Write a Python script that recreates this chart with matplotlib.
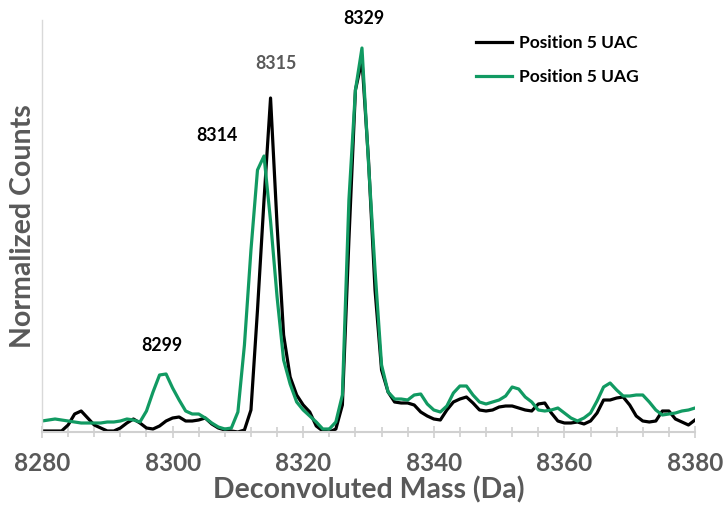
import numpy as np
import matplotlib.pyplot as plt
from matplotlib.ticker import MultipleLocator

plt.rcParams['font.family'] = ['Lato', 'DejaVu Sans']

# deconvoluted mass (Da), 1 Da steps
mass = np.arange(8280, 8381)

uac = [1, 1, 1, 1, 7, 18, 21, 14, 7, 4,
       1, 1, 4, 9, 13, 9, 4, 3, 6, 11,
       14, 15, 11, 11, 12, 14, 8, 4, 2, 1,
       0, 2, 22, 122, 232, 334, 207, 97, 55, 37,
       27, 20, 6, 1, 0, 3, 27, 192, 342, 372,
       272, 142, 62, 40, 30, 29, 29, 27, 20, 16,
       13, 12, 22, 30, 33, 35, 29, 22, 21, 22,
       25, 26, 26, 24, 22, 21, 28, 29, 19, 11,
       9, 9, 10, 8, 11, 19, 32, 32, 34, 35,
       27, 16, 11, 10, 11, 21, 21, 13, 10, 7,
       12]

uag = [11, 12, 13, 12, 11, 10, 9, 9, 9, 9,
       10, 10, 11, 13, 12, 10, 21, 40, 57, 58,
       44, 32, 21, 18, 18, 14, 9, 5, 3, 4,
       20, 87, 182, 262, 276, 211, 135, 72, 48, 30,
       22, 16, 10, 3, 3, 10, 37, 232, 342, 384,
       269, 162, 67, 40, 33, 33, 32, 37, 38, 28,
       22, 20, 26, 39, 46, 46, 37, 30, 28, 30,
       32, 36, 45, 43, 35, 30, 22, 21, 22, 24,
       19, 14, 11, 14, 19, 31, 45, 49, 42, 36,
       36, 37, 37, 30, 22, 17, 18, 19, 21, 22,
       24]

labels = ["8299", "8314", "8315", "8329"]
label_x = [8298.4, 8306.8, 8315.8, 8329.3]
label_y = [87, 297, 369, 414]
label_colors = ["black", "black", "#595959", "black"]

gray = "#595959"
green = "#119a62"

fig = plt.figure(figsize=(7.25, 5.08), dpi=100)
ax = fig.add_axes([42 / 725, 1 - 432 / 508, 653 / 725, 412 / 508])

ax.plot(mass, uac, color="black", lw=2.3, label="Position 5 UAC", solid_joinstyle='round')
ax.plot(mass, uag, color=green, lw=2.3, label="Position 5 UAG", solid_joinstyle='round')

for t, x, y, c in zip(labels, label_x, label_y, label_colors):
    ax.text(x, y, t, ha='center', va='center', fontsize=12.8, fontweight='bold',
            color=c, clip_on=False)

ax.set_xlim(8280, 8380)
ax.set_ylim(0, 412)
ax.xaxis.set_major_locator(MultipleLocator(20))
ax.xaxis.set_minor_locator(MultipleLocator(4))
ax.set_yticks([])
ax.tick_params(axis='x', which='major', direction='inout', length=9, width=1.2,
               color='#d0d0d0', labelsize=17.5, labelcolor=gray, pad=10)
ax.tick_params(axis='x', which='minor', direction='inout', length=6.5, width=1.2,
               color='#d0d0d0')
for lbl in ax.get_xticklabels():
    lbl.set_fontweight('bold')

for s in ['top', 'right']:
    ax.spines[s].set_visible(False)
ax.spines['bottom'].set_color('#d0d0d0')
ax.spines['bottom'].set_linewidth(1.5)
ax.spines['left'].set_color('#d9d9d9')
ax.spines['left'].set_linewidth(1.0)

ax.set_xlabel("Deconvoluted Mass (Da)", fontsize=20.5, fontweight='bold', color=gray, labelpad=1)
ax.set_ylabel("Normalized Counts", fontsize=20.5, fontweight='bold', color=gray, labelpad=4)

ax.legend(loc='upper left', bbox_to_anchor=(476 / 725, 1 - 35 / 508),
          bbox_transform=fig.transFigure, frameon=False,
          prop={'weight': 'bold', 'size': 12.5}, handlelength=2.1, handletextpad=0.4,
          labelspacing=1.05, borderpad=0, borderaxespad=0)

plt.savefig('out.png', dpi=100)
